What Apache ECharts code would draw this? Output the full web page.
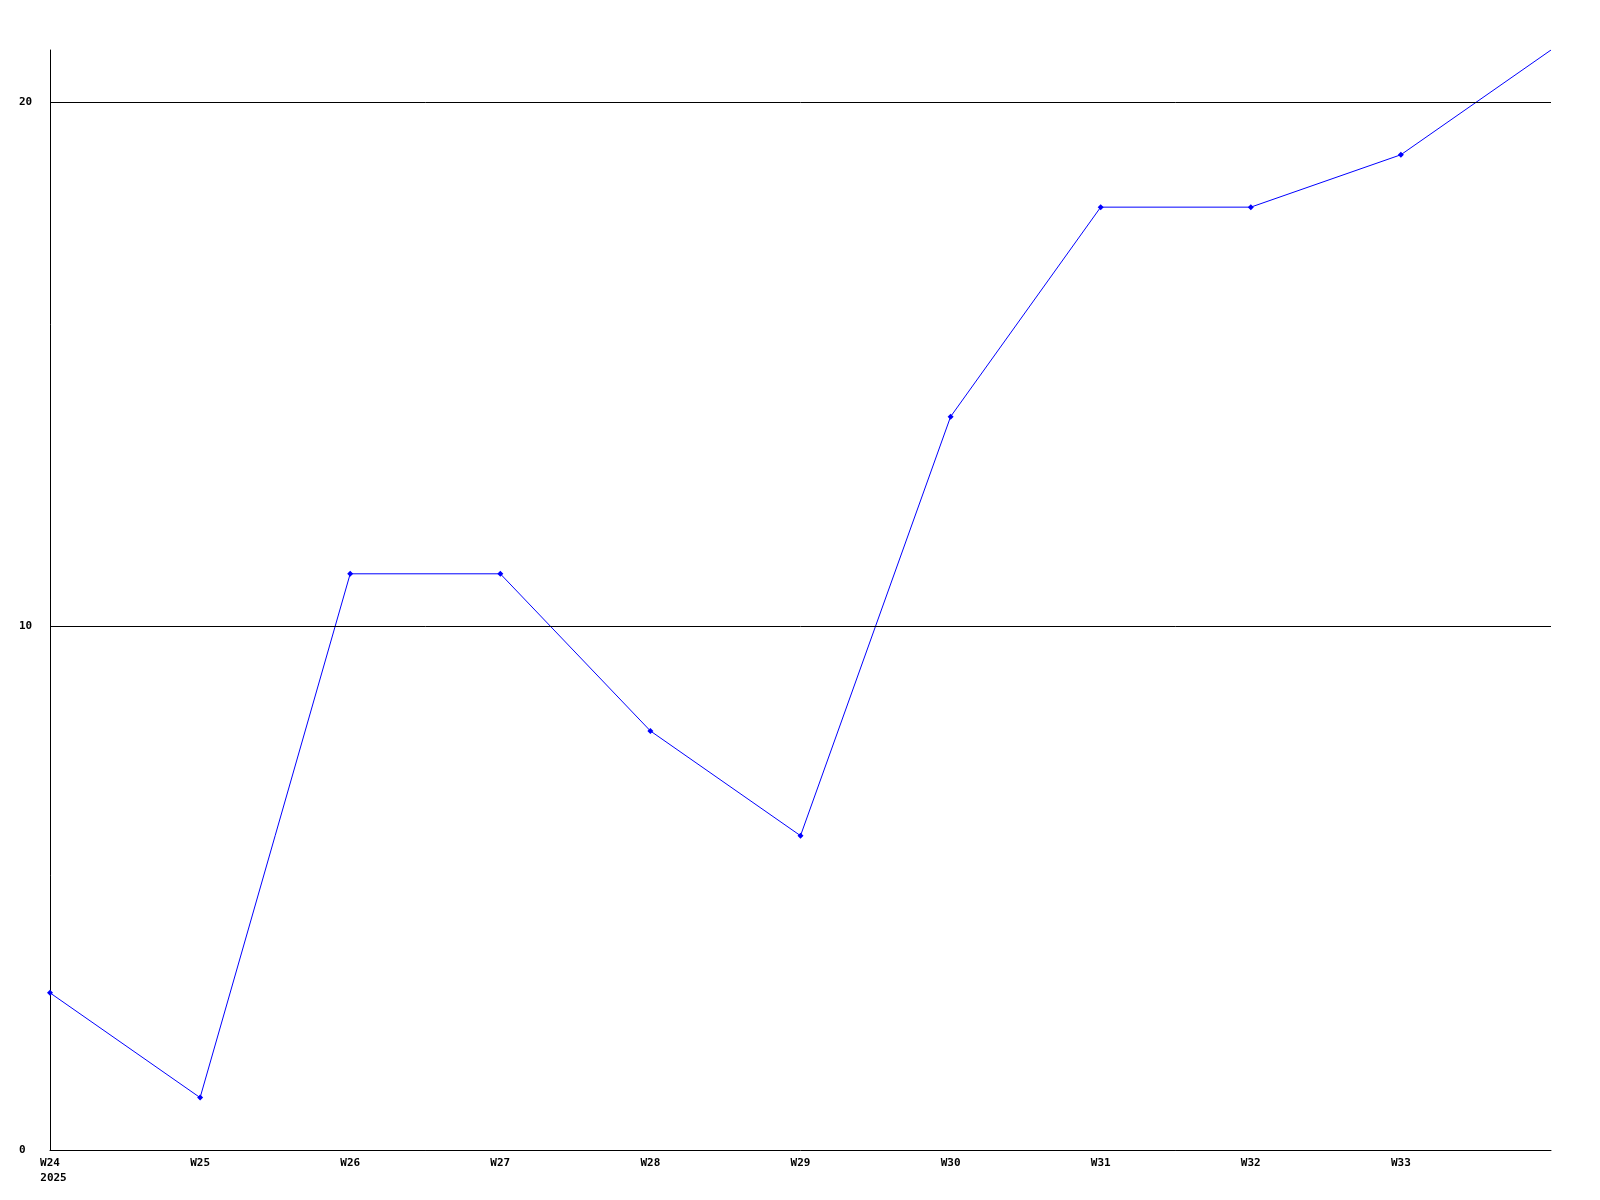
<!DOCTYPE html>
<html>
<head>
<meta charset="utf-8">
<script src="https://cdn.jsdelivr.net/npm/echarts@6/dist/echarts.min.js"></script>
<style>html,body{margin:0;padding:0;background:#fff}#c{width:1600px;height:1200px}</style>
</head>
<body>
<div id="c"></div>
<script>
const categories = ['W24','W25','W26','W27','W28','W29','W30','W31','W32','W33','W34'];
const values = [3, 1, 11, 11, 8, 6, 14, 18, 18, 19, 21];
const yearLabel = '2025';
const gridValues = [10, 20];

const font = { fontFamily: 'DejaVu Sans Mono', fontWeight: 'bold', fontSize: 11, color: '#000' };
const chart = echarts.init(document.getElementById('c'), null, { renderer: 'canvas' });
chart.setOption({
  animation: false,
  backgroundColor: '#fff',
  grid: { left: 50, right: 49, top: 50, bottom: 50, containLabel: false },
  xAxis: {
    type: 'category',
    data: categories,
    boundaryGap: false,
    axisLine: { lineStyle: { color: '#000', width: 1 } },
    axisTick: { show: false },
    splitLine: { show: false },
    axisLabel: Object.assign({}, font, {
      margin: 6,
      lineHeight: 15,
      interval: 0,
      formatter: function (v, i) {
        if (i === categories.length - 1) return '';
        if (i === 0) return v + '\n{y|' + yearLabel + '}';
        return v;
      },
      rich: { y: Object.assign({}, font, { padding: [0, 0, 0, 7], lineHeight: 15 }) }
    })
  },
  yAxis: {
    type: 'value',
    min: 0,
    max: 21,
    interval: 10,
    axisLine: { show: true, lineStyle: { color: '#000', width: 1 } },
    axisTick: { show: false },
    splitLine: { show: false },
    axisLabel: Object.assign({}, font, { margin: 31, align: 'left', showMaxLabel: false })
  },
  series: [{
    type: 'line',
    data: values.map(function (v, i) {
      return i === values.length - 1 ? { value: v, symbolSize: 0 } : v;
    }),
    symbol: 'diamond',
    symbolSize: 6,
    showAllSymbol: true,
    lineStyle: { color: '#0000ff', width: 1 },
    itemStyle: { color: '#0000ff' },
    clip: true,
    markLine: {
      silent: true,
      symbol: ['none', 'none'],
      label: { show: false },
      lineStyle: { color: '#000', width: 1, type: 'solid' },
      data: gridValues.map(function (g) { return { yAxis: g }; })
    }
  }]
});
</script>
</body>
</html>
